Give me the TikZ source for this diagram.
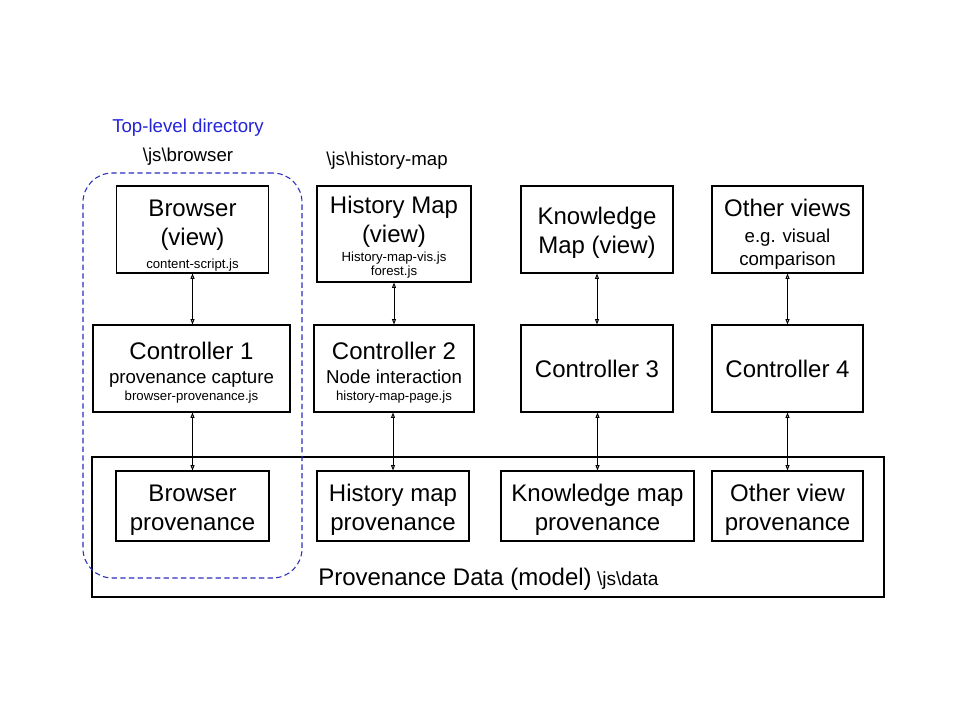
\documentclass[tikz,border=0pt]{standalone}
\usepackage{fontspec}
\setmainfont{Liberation Sans}
\usetikzlibrary{arrows.meta}
\newcommand\ftx[2]{\fontsize{#1}{#2}\selectfont}
\newcommand\bs{\textbackslash}
\newcommand\md{\ftx{14}{16}}
\newcommand\sm{\ftx{9.9}{12}}
\definecolor{dirblue}{RGB}{35,35,215}
\definecolor{dashblue}{RGB}{45,45,190}
\begin{document}
\begin{tikzpicture}[x=0.75pt,y=-0.75pt,
  box/.style={draw, line width=0.8pt, inner sep=0pt},
  txt/.style={inner sep=0pt, align=center, font=\ftx{18}{21.75}},
  viewbox/.style={box, minimum width=114pt, minimum height=65.25pt},
  ctrlbox/.style={box, minimum height=65.25pt},
  provbox/.style={box, minimum height=52.5pt},
  link/.style={line width=0.7pt, {Triangle[open,length=4pt,width=3pt]}-{Triangle[open,length=4pt,width=3pt]}},
  lbl/.style={inner sep=0pt, font=\ftx{14}{16}}
]
\useasboundingbox (0,0) rectangle (960,720);

% model container
\node[box, minimum width=594pt, minimum height=105pt] (data) at (488,527) {};
\node[anchor=base west, inner sep=0pt] (dlbl) at (318,585) {\ftx{18}{20}Provenance Data (model)\hspace{0.22em}\ftx{14.3}{17}\bs js\bs data};

% dashed directory outline
\node[draw=dashblue, dash pattern=on 4pt off 2.5pt, line width=0.8pt, rounded corners=22pt, inner sep=0pt, minimum width=164.25pt, minimum height=303.75pt] (dir) at (192.5,375.5) {};
\node[lbl, text=dirblue] (toplbl) at (188,128) {Top-level directory};
\node[lbl] (jsb) at (188,157) {\bs js\bs browser};
\node[lbl] (jsh) at (387,161) {\bs js\bs history-map};

% views
\node[viewbox] (v1) at (192.5,229.5) {};
\node[txt, yshift=-4.9pt] (t-v1) at (v1) {Browser\\(view)\\[-4.5pt]\sm content-script.js};
\node[viewbox, minimum width=115.5pt, minimum height=72pt] (v2) at (394,234) {};
\node[txt, yshift=-2.25pt] (t-v2) at (v2) {History Map\\(view)\\[-7.5pt]\sm History-map-vis.js\\[-11.25pt]\sm forest.js};
\node[viewbox] (v3) at (597,229.5) {};
\node[txt, yshift=-2.25pt] (t-v3) at (v3) {Knowledge\\Map (view)};
\node[viewbox, minimum width=113.25pt] (v4) at (787.5,229.5) {};
\node[txt, yshift=-3.75pt] (t-v4) at (v4) {Other views\\[-2.25pt]\md e.g. visual\\[-4.5pt]\md comparison};

% controllers
\node[ctrlbox, minimum width=147.75pt] (c1) at (191.5,368.5) {};
\node[txt, yshift=-3.4pt] (t-c1) at (c1) {Controller 1\\[-3.75pt]\md provenance capture\\[-9pt]\sm browser-provenance.js};
\node[ctrlbox, minimum width=120pt] (c2) at (394,368.5) {};
\node[txt, yshift=-3.4pt] (t-c2) at (c2) {Controller 2\\[-3.75pt]\md Node interaction\\[-9pt]\sm history-map-page.js};
\node[ctrlbox, minimum width=114pt] (c3) at (597,368.5) {};
\node[txt] (t-c3) at (c3) {Controller 3};
\node[ctrlbox, minimum width=113.25pt] (c4) at (787.5,368.5) {};
\node[txt] (t-c4) at (c4) {Controller 4};

% provenance stores
\node[provbox, minimum width=114.75pt] (p1) at (192.5,506) {};
\node[txt, yshift=-3pt] (t-p1) at (p1) {Browser\\provenance};
\node[provbox, minimum width=114pt] (p2) at (393,506) {};
\node[txt, yshift=-3pt] (t-p2) at (p2) {History map\\provenance};
\node[provbox, minimum width=144.75pt] (p3) at (597.5,506) {};
\node[txt, yshift=-3pt] (t-p3) at (p3) {Knowledge map\\provenance};
\node[provbox, minimum width=113.25pt] (p4) at (787.5,506) {};
\node[txt, yshift=-3pt] (t-p4) at (p4) {Other view\\provenance};

% connectors
\foreach \i in {1,2,3,4}{
  \draw[link] (v\i.south) -- (v\i.south |- c\i.north);
  \draw[link] (p\i.north |- c\i.south) -- (p\i.north);
}
\end{tikzpicture}
\end{document}
